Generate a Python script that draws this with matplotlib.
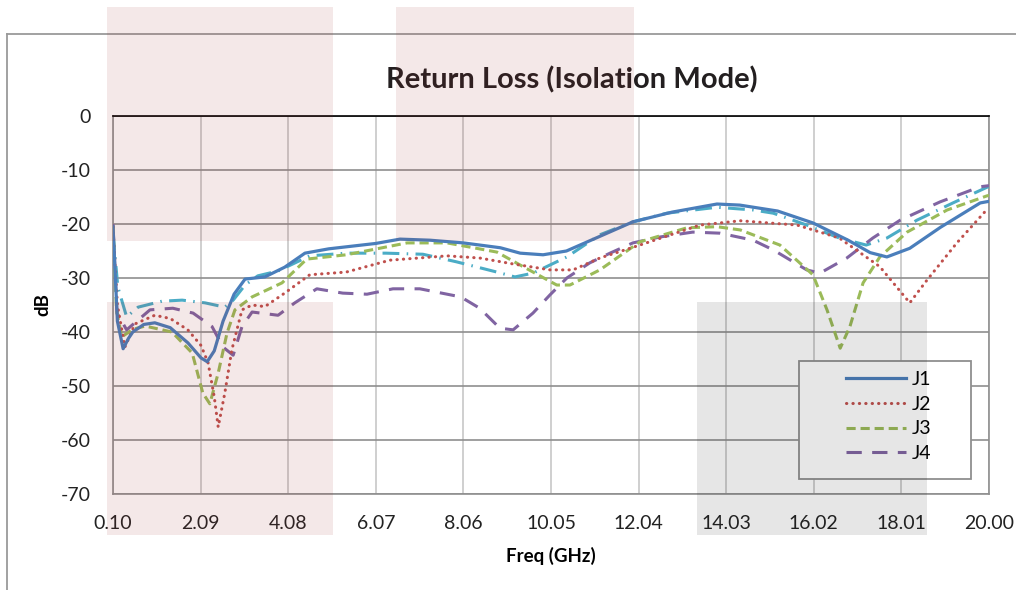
import matplotlib
matplotlib.use('Agg')
import matplotlib.pyplot as plt
from matplotlib.patches import Rectangle
from matplotlib.lines import Line2D
import numpy as np

plt.rcParams['font.family'] = ['Lato', 'DejaVu Sans']
plt.rcParams['axes.unicode_minus'] = False

# values (GHz, dB)
j1_f = [0.10, 0.20, 0.33, 0.45, 0.55, 0.80, 1.05, 1.40, 1.80, 2.10, 2.24, 2.40, 2.60, 2.85, 3.10,
        3.55, 4.00, 4.46, 5.00, 6.07, 6.62, 7.30, 8.06, 8.90, 9.35, 9.87, 10.40, 11.10,
        11.91, 12.80, 13.82, 14.34, 15.20, 16.00, 16.80, 17.30, 17.68, 18.20, 18.90, 19.80, 20.00]
j1_db = [-20.5, -38.0, -43.1, -41.2, -40.0, -38.6, -38.3, -39.2, -42.0, -44.8, -45.5, -43.5, -38.0, -33.0, -30.2,
         -29.8, -28.0, -25.4, -24.6, -23.6, -22.8, -23.0, -23.5, -24.4, -25.4, -25.7, -25.0, -22.5,
         -19.6, -17.8, -16.3, -16.5, -17.6, -19.8, -23.0, -25.3, -26.1, -24.5, -20.6, -16.1, -15.8]

j2_f = [0.10, 0.20, 0.37, 0.60, 1.05, 1.40, 1.80, 2.10, 2.26, 2.40, 2.49, 2.64, 2.80, 3.03,
        3.26, 3.55, 4.00, 4.57, 5.40, 6.39, 7.69, 8.43, 9.19, 10.03, 10.55, 11.16, 12.07,
        13.43, 14.35, 15.64, 16.60, 17.52, 18.20, 18.59, 19.27, 19.90, 20.00]
j2_db = [-20.5, -35.0, -42.8, -38.5, -36.9, -37.5, -39.6, -42.5, -45.7, -52.0, -57.6, -51.3, -43.3, -35.9,
         -35.0, -35.3, -32.8, -29.4, -28.9, -26.7, -25.9, -26.3, -27.4, -28.5, -28.5, -26.3, -23.9,
         -20.2, -19.4, -20.2, -22.6, -27.9, -34.6, -30.4, -23.5, -17.8, -17.3]

j3_f = [0.10, 0.18, 0.30, 0.55, 0.83, 1.44, 1.90, 2.14, 2.30, 2.49, 2.69, 2.87, 3.26, 3.94,
        4.50, 5.40, 6.78, 7.69, 8.82, 9.35, 10.18, 10.48, 11.16, 12.07, 13.14, 13.82, 14.35,
        15.25, 16.00, 16.32, 16.62, 16.84, 17.14, 17.52, 18.14, 19.05, 19.95, 20.00]
j3_db = [-20.5, -36.0, -40.9, -39.5, -38.9, -40.0, -43.9, -51.3, -53.3, -47.6, -40.2, -35.9, -33.5, -30.9,
         -26.5, -25.7, -23.5, -23.5, -25.2, -27.6, -31.3, -31.3, -28.5, -23.3, -20.7, -20.5, -21.1,
         -23.9, -29.4, -35.9, -43.0, -39.0, -30.9, -26.1, -21.5, -17.4, -14.8, -14.7]

j4_f = [0.10, 0.19, 0.41, 0.94, 1.46, 1.92, 2.35, 2.60, 2.83, 3.03, 3.26, 3.85, 4.23, 4.73,
        5.32, 5.87, 6.46, 7.07, 8.00, 8.43, 8.89, 9.19, 9.64, 10.03, 10.41, 10.93, 11.39,
        11.91, 12.53, 13.27, 13.89, 14.64, 15.10, 15.86, 16.16, 16.77, 17.36, 17.98, 18.89, 19.80, 20.00]
j4_db = [-20.0, -36.5, -39.6, -35.9, -35.6, -36.5, -39.0, -42.8, -44.3, -39.0, -36.3, -36.9, -34.6, -32.0,
         -32.8, -33.0, -32.0, -32.0, -33.5, -35.6, -39.3, -39.6, -36.5, -33.1, -30.0, -27.2, -25.4,
         -23.5, -22.4, -21.5, -21.7, -23.0, -24.8, -28.5, -29.1, -26.3, -22.6, -19.3, -15.9, -13.1, -12.9]

# fifth trace, drawn but not in the legend
j5_f = [0.10, 0.21, 0.41, 0.67, 1.21, 1.67, 2.19, 2.64, 2.83, 3.10, 3.39, 3.85, 4.57, 5.40,
        6.30, 7.14, 7.90, 8.82, 9.23, 9.64, 10.41, 11.16, 11.91, 12.68, 13.82, 14.64, 15.10,
        15.86, 16.60, 17.21, 17.68, 18.36, 19.18, 19.98, 20.00]
j5_db = [-21.7, -31.7, -37.2, -35.4, -34.3, -34.1, -34.6, -35.4, -34.1, -31.3, -29.6, -28.7, -25.9, -25.4,
         -25.4, -25.6, -27.0, -28.9, -29.8, -29.1, -26.1, -22.0, -19.6, -18.0, -16.9, -17.4, -18.0,
         -20.2, -22.6, -23.9, -22.6, -19.3, -16.1, -13.1, -13.0]

xticks = [0.10, 2.09, 4.08, 6.07, 8.06, 10.05, 12.04, 14.03, 16.02, 18.01, 20.00]
yticks = [0, -10, -20, -30, -40, -50, -60, -70]

W, H = 1016, 590
fig = plt.figure(figsize=(W / 100, H / 100), dpi=100)
ax = fig.add_axes([113 / W, 1 - 494 / H, 876 / W, 378 / H])
ax.set_facecolor('white')

lw = 2.2
ax.plot(j5_f, j5_db, color='#4BACC6', lw=lw, linestyle=(0, (5.5, 2.4, 0.5, 2.4)), zorder=3)
ax.plot(j4_f, j4_db, color='#8064A2', lw=lw, linestyle=(0, (5.0, 3.4)), label='J4', zorder=3)
ax.plot(j3_f, j3_db, color='#9BBB59', lw=lw, linestyle=(0, (3.0, 1.6)), label='J3', zorder=3)
ax.plot(j2_f, j2_db, color='#C0504D', lw=lw, linestyle=(0, (0.1, 2.0)),
        dash_capstyle='round', label='J2', zorder=3)
ax.plot(j1_f, j1_db, color='#4A7EBB', lw=2.3, label='J1', zorder=3)

ax.set_xlim(0.10, 20.00)
ax.set_ylim(-70, 0)
ax.set_xticks(xticks)
ax.set_xticklabels(['%.2f' % v for v in xticks])
ax.set_yticks(yticks)
ax.tick_params(length=0, labelsize=14, colors='#222222')
ax.tick_params(axis='x', pad=15)
ax.tick_params(axis='y', pad=16)
ax.grid(axis='x', color='#cfcfcf', lw=1.4)
ax.grid(axis='y', color='#8f8f8f', lw=1.2)
ax.set_axisbelow(True)
for s in ['left', 'right', 'bottom']:
    ax.spines[s].set_color('#8f8f8f')
    ax.spines[s].set_linewidth(1.2)
ax.spines['top'].set_color('black')
ax.spines['top'].set_linewidth(1.2)

ax.set_xlabel('Freq (GHz)', fontsize=13.5, fontweight='bold', labelpad=11)
ax.set_ylabel('dB', fontsize=13.5, fontweight='bold', labelpad=7)
fig.text(572 / W, 1 - 80 / H, 'Return Loss (Isolation Mode)', fontsize=21,
         fontweight='bold', ha='center', va='center', color='#231f20')

# legend box
lx0, ly0, lx1, ly1 = 799, 361, 971, 479
box = Rectangle((lx0 / W, 1 - ly1 / H), (lx1 - lx0) / W, (ly1 - ly0) / H,
                transform=fig.transFigure, facecolor='white', edgecolor='#8f8f8f', lw=1.3, zorder=4)
fig.add_artist(box)
handles, labels = ax.get_legend_handles_labels()
order = [3, 2, 1, 0]
leg = fig.legend([handles[i] for i in order], [labels[i] for i in order],
                 loc='upper left', bbox_to_anchor=(838 / W, 1 - 363 / H), frameon=False,
                 fontsize=14, handlelength=3.1, handletextpad=0.3, labelspacing=0.4,
                 borderaxespad=0)
leg.set_zorder(5)

# outer chart border
fig.add_artist(Line2D([7 / W, 7 / W], [0, 1 - 34 / H], transform=fig.transFigure,
                      color='#9a9a9a', lw=1.3))
fig.add_artist(Line2D([7 / W, 1], [1 - 34 / H, 1 - 34 / H], transform=fig.transFigure,
                      color='#9a9a9a', lw=1.3))

# translucent highlight boxes over the chart
for (x0, y0, x1, y1, c) in [(107, 7, 333, 241, '#9b2f2f'), (396, 7, 634, 241, '#9b2f2f'),
                            (107, 302, 333, 535, '#9b2f2f'), (697, 302, 927, 535, '#1e1e1e')]:
    fig.add_artist(Rectangle((x0 / W, 1 - y1 / H), (x1 - x0) / W, (y1 - y0) / H,
                             transform=fig.transFigure, facecolor=c, edgecolor='none',
                             alpha=0.11, zorder=10))

fig.savefig('out.png', dpi=100)
